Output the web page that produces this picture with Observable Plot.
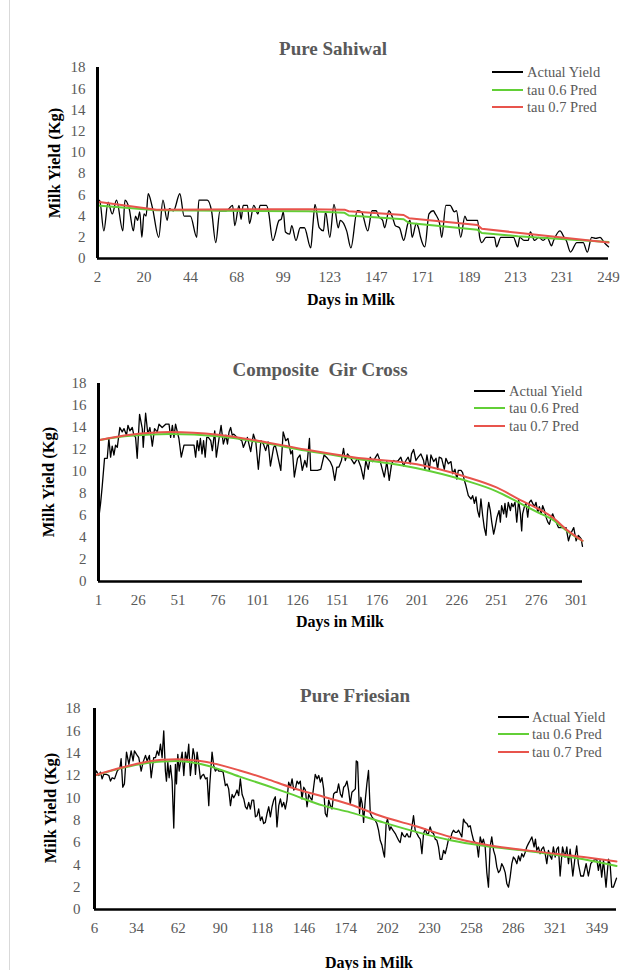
<!DOCTYPE html>
<html><head><meta charset="utf-8">
<script src="https://cdn.jsdelivr.net/npm/d3@7"></script>
<script src="https://cdn.jsdelivr.net/npm/@observablehq/plot@0.6"></script>
<style>
html,body{margin:0;padding:0;background:#fff;}
body{width:641px;height:970px;position:relative;overflow:hidden;font-family:"Liberation Serif","Times New Roman",serif;}
.a{position:absolute;white-space:pre;line-height:1;}
.title{font-weight:bold;font-size:19px;color:#595959;transform:translate(-50%,-50%);}
.xt{font-weight:bold;font-size:16px;color:#000;transform:translate(-50%,-50%);}
.yt{font-weight:bold;font-size:16.5px;color:#000;transform:translate(-50%,-50%) rotate(-90deg);}
.lg{font-size:14.5px;color:#595959;transform:translateY(-50%);}
.ll{height:0;border-top:2px solid;transform:translateY(-1px);}
</style>
</head><body>
<script>
// ---------- Pure Sahiwal ----------
const sahTicks = [0,22,44,66,88,110,132,154,176,198,220,242];
const sahLabels = ["2","20","44","68","99","123","147","171","189","213","231","249"];
const sahPos = [0,1,3,5,7,9,12,13,15,17,18,19,20,21,22,23,24,26,29,31,33,34,36,39,41,44,47,48,52,54,56,58,61,64,65,67,68,69,71,72,74,76,77,80,81,83,86,87,88,89,91,92,94,96,98,101,102,103,105,107,108,110,112,114,115,118,120,123,125,128,130,132,133,135,136,138,140,141,143,145,147,148,149,151,152,153,155,157,159,160,162,163,165,167,169,170,172,174,175,180,181,182,184,188,189,191,197,199,200,202,204,205,207,209,211,213,215,216,219,221,222,224,227,230,232,234,236,238,240,242];
const sahActual = [4.2,5.5,2.6,5.3,4.2,5.5,2.6,5.5,4.7,2.6,4.0,3.6,4.4,2.0,4.2,4.0,6.1,4.8,2.0,5.5,3.6,4.7,4.5,6.1,4.0,4.0,2.0,5.5,5.5,4.5,1.5,4.5,4.5,5.0,3.1,5.0,3.7,5.0,5.0,3.3,5.0,4.2,5.0,5.0,4.4,1.7,3.6,3.7,4.4,2.5,2.3,3.1,1.7,2.9,2.9,1.0,3.1,5.1,2.9,2.6,4.4,2.0,5.1,2.9,3.6,2.6,1.0,4.5,4.4,2.6,4.5,4.5,4.0,3.6,2.9,4.5,3.7,3.1,2.9,1.7,3.3,3.6,2.0,3.3,2.9,2.0,1.1,4.2,4.5,4.2,3.3,2.0,5.0,5.0,4.4,4.5,2.0,4.0,3.6,3.6,2.0,1.5,2.0,2.0,1.1,2.0,2.0,1.1,2.0,1.7,1.7,2.5,1.7,2.0,1.7,2.0,1.2,1.7,2.6,2.0,1.7,0.6,1.5,1.5,0.6,2.0,1.9,2.0,1.5,1.1];
const sahPredPos = [0,28,100,117,119,145,147.5,180,182,199,242];
const sahTau06 = [5.0,4.55,4.45,4.3,4.05,3.7,3.35,2.7,2.4,2.1,1.55];
const sahTau07 = [5.35,4.6,4.65,4.6,4.45,4.1,3.8,3.15,2.8,2.43,1.5];

// ---------- Composite Gir Cross ----------
const compTicks = [0,25,50,75,100,125,150,175,200,225,250,275,300];
const compLabels = ["1","26","51","76","101","126","151","176","201","226","251","276","301"];
const compPos = [0,1.3,2.3,3.8,5.5,6.5,7.6,8.6,9.7,10.7,11.8,13.4,14.9,16,17.6,18.5,19.7,21.2,22.2,23.3,24.3,25.8,27.5,28.1,29.6,31,32.3,33.8,35.2,36.9,38,40,42.2,44.3,45.3,46.4,47.4,48.4,49.5,50.5,52,53.7,57.9,60,61,62,63,64,65,66,67,68,69,70.5,71.5,73,74,75.7,77,78.4,80,81,82,83,84,85,87,88,90,91,93.5,95.6,97.3,98.8,100.4,102,103.6,105,106.5,108,110,111,112,114.5,116,117.6,119,120.8,121.8,123,125,126.6,128,129.6,130.8,132.5,133.3,135,137.5,139.6,141.7,143.8,145.5,147,148.4,149.7,151,152.6,153.9,155,156.4,158,
160.6,162.7,164.8,166.5,167.9,169.4,170.7,172.1,173.6,175.3,177,178.4,179.5,181.1,182.6,184.1,185.3,186.8,188.3,189.9,191.6,193.1,194.5,195.8,196.6,197.9,199.4,200.8,202.5,204.2,205,206.3,207.8,208.8,210.5,212,213,214,215.5,217.2,218.2,219.7,221.4,222.4,223.9,225.1,226,227.7,228.7,229.8,230.8,232.3,234,235,236.1,237.1,238.1,239.2,240.2,241.3,242.3,243.4,244.4,245.1,246.1,247,248.2,249.1,250.3,251.6,252.4,253.2,254.5,255.3,256.2,257.4,258.7,259.5,260.4,261.6,262.7,263.9,265,265.8,266.4,267.5,268.5,269.6,270.6,271.7,272.7,273.8,274.8,275.9,276.9,278,279,280.1,281.1,282.2,283.2,284.3,285.3,286.4,287.4,288.9,290.5,293.7,295.2,296.4,298.5,300,301.4,303.1,304];
const compActual = [5.55,7.1,8.6,11.2,11.2,13.0,11.3,12.3,11.5,12.4,12.2,14.0,13.6,13.9,13.3,14.2,13.7,14.0,13.3,13.1,11.2,15.2,13.9,12.2,15.3,13.4,14.0,12.3,13.9,13.6,14.3,14.0,14.3,14.3,13.1,14.2,13.1,14.3,13.6,13.0,11.3,12.4,12.4,12.4,11.3,12.8,11.9,13.0,11.6,12.8,11.3,13.1,13.1,12.8,11.9,13.7,11.3,13.0,14.2,12.5,13.3,12.5,13.6,14.0,13.3,13.4,13.1,13.0,12.8,12.2,13.1,11.8,13.4,12.7,10.2,12.8,12.5,11.9,12.7,10.5,12.2,12.4,11.8,10.1,13.6,12.8,13.0,11.6,11.9,9.5,11.2,11.5,10.1,11.0,10.4,13.0,10.1,10.1,10.1,10.2,11.5,11.2,10.9,10.4,9.2,10.4,10.4,11.0,12.1,11.0,11.6,11.3,
10.7,11.2,10.4,9.3,11.0,10.2,11.3,10.9,11.2,11.6,10.9,10.1,9.5,10.9,9.2,10.7,11.0,10.9,11.0,11.3,10.5,11.0,11.3,10.7,11.6,12.0,11.0,11.3,11.6,11.0,10.2,11.5,10.1,11.5,10.9,11.2,10.2,11.3,11.2,10.2,11.2,10.7,10.9,9.8,10.2,9.3,10.1,10.1,9.9,9.2,8.7,7.8,7.5,7.8,7.1,7.7,6.45,5.85,7.5,6.0,4.9,4.2,6.45,7.2,6.45,5.4,4.3,4.9,5.85,6.45,5.4,6.9,6.15,7.1,5.85,7.2,6.45,7.1,6.8,7.2,5.4,7.4,6.15,4.6,6.15,6.8,7.1,5.85,7.2,7.4,7.1,6.8,7.2,6.3,6.8,6.15,6.9,6.45,5.85,5.4,5.2,5.85,6.15,5.7,5.4,4.9,4.9,4.9,3.7,4.3,4.9,3.7,4.2,3.9,3.2];
const compPredPos = [0,20,45,75,100,130,160,200,230,250,265,275,285,295,304];
const compTau06 = [12.85,13.25,13.4,13.2,12.7,11.9,11.2,10.3,9.2,8.2,7.1,6.35,5.65,4.5,3.7];
const compTau07 = [12.85,13.35,13.6,13.35,12.8,12.0,11.3,10.65,9.55,8.55,7.4,6.7,5.85,4.6,3.7];

// ---------- Pure Friesian ----------
const friesTicks = [0,28,56,84,112,140,168,196,224,252,280,308,336];
const friesLabels = ["6","34","62","90","118","146","174","202","230","258","286","321","349"];
const friesPos = [0,1.3,2.9,4.0,5.1,6.2,8.0,9.6,10.7,11.8,13.4,15.2,17,17.8,18.9,20,21.4,23,24.5,25.8,26.7,28.1,29.6,31.2,32.5,34.1,35.2,36.7,37.9,39.6,40.8,41.9,43,44.1,45.2,46.3,47.4,48.1,49,49.9,50.8,51.9,53,54.1,54.8,55.7,56.6,57.5,58.6,59.7,60.8,61.9,63,64.1,65.3,65.9,66.8,67.5,68.6,69.7,70.8,71.9,73,74.2,75.3,76.4,77.1,78.6,79.7,80.8,82,83.1,84.6,86,87.5,88.6,89.7,90.9,92,93.1,94.2,95.3,96.4,97.5,98.7,99.8,100.9,102,103.1,104.2,105.3,106.4,107.6,108.7,109.8,110.9,112,113.1,114.2,115.4,116.5,117.6,118.7,119.8,120.9,122,123.2,124.3,125.4,126.5,127.6,128.7,129.8,131,132.1,133.2,134.3,135.4,136.5,137.6,138.7,139.9,141,142.1,143.2,144.3,145.4,146.5,147.6,148.8,149.9,151,152.1,153.2,154.3,155.4,156.6,157.7,158.8,159.9,161,162.1,163.2,164.4,165.5,166.6,167.7,168.8,169.9,171,172.1,173.3,174.4,
175,175.9,177.2,178.1,179,179.9,181,182.1,183.2,184.4,185.5,186.6,187.7,188.8,189.9,191,192.2,193.3,193.9,195,195.9,197.3,198.2,199.5,201.1,202.2,203.3,204.4,205.5,206.6,207.7,208.9,210,211.1,212.2,213.3,214.4,215.5,216.7,217.8,218.9,220,221.1,222.2,223.3,224.4,225.6,226.7,227.8,228.9,230,231.1,232.2,233.4,234.5,235.6,236.7,237.8,238.9,240,241.2,242.3,243.4,244.5,245.6,246.7,247.8,249,250,251.2,252.3,253.4,254.5,255.6,256.7,257.9,259,260,261.2,262.3,263.4,264.5,265.6,266.8,267.9,269,270.1,271.2,272.3,273.4,274.6,275.7,276.8,277.9,279,280.1,281.2,282.4,283.5,284.6,285.7,286.8,287.9,289,290.1,291.3,292.4,293.9,294.8,295.7,296.8,297.9,299,300.2,301.3,302.4,303.5,304.6,305.7,306.8,308,309.1,310.2,311.3,312.9,314.6,315.8,316.9,318,319.8,321.3,322.4,323.5,325.1,326.9,328.7,330.2,331.8,333.6,335.8,336.9,338,339.1,340.3,342,343.6,344.7,345.8,346.9,349];
const friesActual = [12.0,12.4,12.0,12.3,11.7,12.1,12.1,12.0,11.5,11.8,11.7,12.4,12.7,13.5,10.95,11.25,14.1,13.0,14.2,13.3,14.2,13.9,13.6,12.4,13.2,13.8,13.3,13.8,11.8,13.6,13.6,14.2,13.8,14.8,13.6,16.0,12.4,11.5,13.2,11.8,12.9,11.5,7.3,13.0,11.25,13.9,12.4,13.2,14.1,12.0,14.1,13.3,14.8,12.0,13.5,14.4,13.8,12.1,14.1,13.0,11.7,12.0,12.1,11.7,11.8,9.3,11.25,14.1,12.9,12.4,12.6,12.4,12.4,12.3,11.1,11.25,10.8,9.3,10.3,10.0,10.3,10.7,10.2,11.7,10.3,9.9,9.2,9.0,9.6,9.0,9.8,9.8,8.3,8.4,9.0,7.97,8.3,7.7,7.8,8.6,9.2,8.3,9.2,9.8,10.1,7.4,9.3,9.9,9.2,9.6,9.0,9.8,11.4,10.95,11.7,10.7,10.8,11.5,11.25,11.5,9.9,10.95,10.7,9.2,10.3,10.0,9.8,10.95,12.1,11.7,12.0,11.4,11.8,10.8,8.6,8.3,9.8,9.3,9.0,10.35,10.5,10.5,11.25,10.35,10.05,10.95,11.1,11.5,10.65,9.45,10.5,10.65,10.8,
13.3,13.2,8.6,10.05,9.45,7.8,9.75,11.25,12.45,8.6,8.3,8.1,7.97,7.7,7.1,6.2,5.75,5.0,4.7,7.7,8.1,7.1,7.4,7.1,6.8,6.5,6.2,6.0,6.9,6.6,6.5,6.8,6.5,6.5,7.4,8.4,7.1,6.8,6.5,6.3,5.0,6.8,7.2,6.8,6.8,7.4,6.9,6.8,6.3,6.2,5.6,4.5,4.5,5.3,5.0,5.6,6.3,6.2,6.8,7.1,6.9,6.9,7.1,6.8,6.5,8.1,7.8,7.7,7.4,7.5,6.8,6.2,6.0,5.9,4.7,6.5,5.9,6.3,5.6,3.3,2.0,5.6,6.5,5.3,4.8,3.8,3.3,3.5,4.1,3.8,3.3,2.3,2.0,2.9,4.1,4.7,4.5,4.1,4.8,4.35,5.0,4.7,5.1,5.6,5.9,6.2,6.5,5.6,6.3,5.3,5.6,5.0,5.4,5.6,5.0,4.1,5.3,4.8,4.5,5.6,4.7,5.4,5.6,3.0,5.6,4.7,5.6,4.1,5.4,3.0,4.7,5.7,4.1,3.0,3.0,4.1,3.0,4.1,4.4,4.5,3.5,4.4,2.9,4.4,2.0,4.5,4.1,2.0,2.0,2.8];
const friesPredPos = [0,15,30,45,55,75,97,115,131,153,171,193,215,238,260,292,327,349];
const friesTau06 = [12.0,12.55,13.0,13.25,13.3,12.9,11.9,11.1,10.35,9.3,8.7,7.8,6.95,6.2,5.7,5.2,4.5,3.9];
const friesTau07 = [12.0,12.6,13.1,13.4,13.45,13.2,12.45,11.7,10.95,10.1,9.4,8.3,7.45,6.5,5.85,5.25,4.7,4.3];

const yTicks = [0,2,4,6,8,10,12,14,16,18];
const seriesNames = ["Actual Yield","tau 0.6 Pred","tau 0.7 Pred"];
const seriesColors = ["#000000","#62cf36","#e8544c"];

function el(cls, x, y, text, extra) {
  const d = document.createElement("div");
  d.className = "a " + cls;
  d.style.left = x + "px"; d.style.top = y + "px";
  if (text != null) d.textContent = text;
  if (extra) Object.assign(d.style, extra);
  document.body.appendChild(d);
  return d;
}

function panel(o) {
  const mt = 10, mb = 30;
  const n = Math.min(o.pos.length, o.actual.length);
  const pn = Math.min(o.predPos.length, o.p06.length, o.p07.length);
  const chart = Plot.plot({
    width: 641,
    height: (o.bottom - o.top) + mt + mb,
    marginLeft: o.left, marginRight: 641 - o.right, marginTop: mt, marginBottom: mb,
    style: {fontFamily: "'Liberation Serif','Times New Roman',serif", fontSize: "15px", color: "#595959", background: "transparent", overflow: "visible"},
    x: {domain: [0, o.xmax]},
    y: {domain: [0, 18]},
    marks: [
      Plot.axisY({ticks: yTicks, tickSize: 0, tickPadding: o.yPad, label: null, fontSize: 15}),
      Plot.axisX({ticks: o.ticks, tickFormat: d => o.labels[o.ticks.indexOf(d)], tickSize: 0, tickPadding: 13, label: null, fontSize: 15}),
      Plot.line({length: n}, {x: o.pos.slice(0, n), y: o.actual.slice(0, n), stroke: seriesColors[0], strokeWidth: 1.3, curve: o.curve}),
      Plot.line({length: pn}, {x: o.predPos.slice(0, pn), y: o.p06.slice(0, pn), stroke: seriesColors[1], strokeWidth: 2, curve: o.predCurve}),
      Plot.line({length: pn}, {x: o.predPos.slice(0, pn), y: o.p07.slice(0, pn), stroke: seriesColors[2], strokeWidth: 2, curve: o.predCurve}),
      Plot.ruleX([0], {stroke: "#000", strokeWidth: 3}),
      Plot.ruleY([0], {stroke: "#000", strokeWidth: 2.5})
    ]
  });
  chart.style.position = "absolute";
  chart.style.left = "0px";
  chart.style.top = (o.top - mt) + "px";
  document.body.appendChild(chart);

  el("title", o.titleX, o.titleY, o.title);
  el("xt", o.xtX, o.xtY, "Days in Milk");
  el("yt", o.ytX, o.ytY, "Milk Yield (Kg)");
  o.legY.forEach((y, i) => {
    el("ll", o.legX0, y, null, {width: (o.legX1 - o.legX0) + "px", borderTopColor: seriesColors[i]});
    el("lg", o.legTX, y, seriesNames[i]);
  });
}

el("", 9, 0, null, {width: "1px", height: "970px", background: "#d9d9d9"});

panel({title: "Pure Sahiwal", titleX: 333, titleY: 48,
  pos: sahPos, actual: sahActual, predPos: sahPredPos, p06: sahTau06, p07: sahTau07,
  ticks: sahTicks, labels: sahLabels, xmax: 242,
  left: 97, right: 608, top: 67, bottom: 258, yPad: 12,
  curve: "monotone-x", predCurve: "linear",
  xtX: 351, xtY: 300, ytX: 55, ytY: 163,
  legX0: 492, legX1: 523, legTX: 527, legY: [72, 90, 107]});

panel({title: "Composite  Gir Cross", titleX: 320, titleY: 369,
  pos: compPos, actual: compActual, predPos: compPredPos, p06: compTau06, p07: compTau07,
  ticks: compTicks, labels: compLabels, xmax: 304,
  left: 98, right: 582, top: 383, bottom: 581, yPad: 12,
  curve: "linear", predCurve: "monotone-x",
  xtX: 340, xtY: 622, ytX: 49, ytY: 482,
  legX0: 474, legX1: 505, legTX: 509, legY: [391, 408, 426]});

panel({title: "Pure Friesian", titleX: 355, titleY: 695,
  pos: friesPos, actual: friesActual, predPos: friesPredPos, p06: friesTau06, p07: friesTau07,
  ticks: friesTicks, labels: friesLabels, xmax: 349,
  left: 94, right: 616, top: 708, bottom: 909, yPad: 14,
  curve: "linear", predCurve: "monotone-x",
  xtX: 369, xtY: 963, ytX: 51, ytY: 808,
  legX0: 498, legX1: 529, legTX: 532, legY: [717, 734, 752]});
</script>
</body></html>
